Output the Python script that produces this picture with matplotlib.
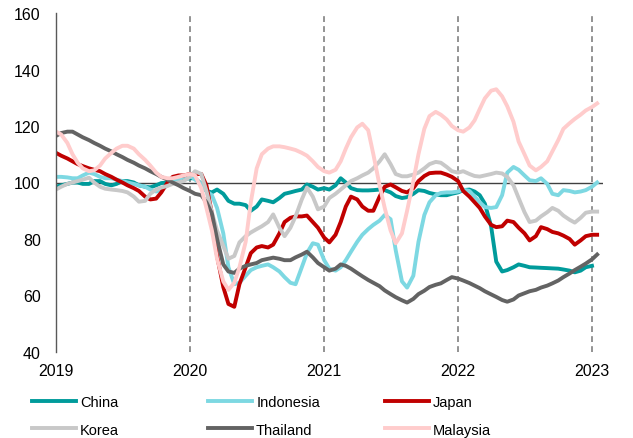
import numpy as np
import pandas as pd
import matplotlib
matplotlib.use('Agg')
import matplotlib.pyplot as plt

plt.rcParams['font.family'] = ['Liberation Sans', 'DejaVu Sans']

# semi-monthly index values, Jan 2019 - mid Jan 2023
dates = pd.date_range('2019-01-01', periods=98, freq='SMS')

china = [98.5, 99, 99.5, 100, 100, 99.5, 99.5, 100.5, 100.5, 99.5, 99, 99.5,
         100.5, 100.5, 100, 99, 98.5, 98.3, 99, 99.8, 100, 100.2, 100.8, 101.2,
         101.5, 101.5, 99.5, 97, 96.5, 97.5, 96, 93.5, 92.5, 92.5, 92, 90,
         91.5, 94, 93.5, 93, 94.5, 96, 96.5, 97, 97.5, 99.3, 98.5, 97.5,
         98, 97.5, 99, 101.5, 100, 98, 97.3, 97.2, 97.2, 97.3, 97.5, 97.3,
         96.5, 95.2, 94.5, 94.8, 96, 97.3, 97, 96.3, 95.8, 95.5, 95.5, 96,
         96.5, 97.3, 97.5, 96.8, 95.5, 92.5, 84.5, 72, 68.5, 69, 70, 71,
         70.5, 70, 69.9, 69.8, 69.7, 69.6, 69.5, 69.2, 68.8, 68.2, 68.8, 70,
         70.5, np.nan]
indonesia = [102, 102, 101.8, 101.5, 101.5, 102.5, 103.5, 103, 102, 101.5, 101.5, 101,
             100.5, 100, 99.5, 99, 98.5, 97.5, 96.8, 97.5, 99, 100.5, 101, 102,
             102.5, 101, 99.5, 97, 95.5, 91, 82, 70, 64, 64.5, 67, 69,
             70, 70.5, 71, 70, 68.5, 66.5, 64.5, 64, 70, 75, 78.5, 78,
             72.5, 69.5, 68.8, 70, 72.5, 75.5, 79, 81.5, 83.5, 85, 86.5, 88.5,
             87, 76, 65, 62.8, 67, 79, 88.5, 93, 95.5, 96.3, 96.5, 96.5,
             96.8, 97.5, 97, 95, 93, 91.3, 91, 91.3, 95.5, 103.5, 105.5, 104.5,
             102.5, 100.8, 100.5, 101.5, 99.5, 96, 95.5, 97.3, 97, 96.5, 96.8, 97.3,
             98.5, 100]
japan = [110.5, 109.5, 108.5, 107.5, 106.5, 105.8, 105, 104.5, 104, 103, 102, 101,
         100, 99, 98, 97, 95, 94, 94.3, 96.5, 100, 102, 102.5, 102.5,
         103, 103, 103, 99, 89, 74, 63, 57, 56, 64, 70, 75,
         77, 77.5, 77, 78, 82, 86, 87.5, 88, 88, 88.3, 86, 84,
         80.5, 78.8, 81.5, 86, 91.5, 95, 94, 91.5, 90, 90, 95, 98.5,
         99.3, 98.3, 97, 96.5, 98, 100.5, 102.3, 103.3, 103.5, 103.5, 102.8, 102,
         100.5, 97, 95, 93, 91, 88, 85, 84.2, 84.5, 86.5, 86, 84,
         82, 79.5, 81, 84.2, 83.5, 82.5, 82, 81.2, 80, 78, 79.5, 81,
         81.5, 81.5]
korea = [97.5, 98.5, 99.5, 100, 100.5, 101, 101.7, 100, 98.5, 97.8, 97.5, 97.3,
         97, 96.5, 95, 93.2, 93.5, 96, 97.5, 98.2, 98.8, 99.5, 100, 100.5,
         102, 104, 103, 97, 89.4, 83, 77.5, 73, 74, 78.8, 81, 82.3,
         83.5, 84.5, 86, 88.7, 84, 81, 84, 88, 94, 98.2, 95, 90.5,
         91.5, 94.5, 96, 97.5, 99, 100.5, 101.5, 102.5, 103.5, 105, 107.5, 110,
         106.5, 103, 102.2, 102.2, 102.8, 103.5, 105, 106.5, 107.3, 107, 105.5, 104,
         103.5, 104, 103, 102.3, 102.1, 102.5, 103, 103.5, 103.2, 102, 99, 94.5,
         89.5, 86, 86.5, 88, 89.5, 91, 90, 88.3, 86.8, 85.8, 87.5, 89.3,
         89.7, 89.7]
thailand = [116.5, 117.5, 118, 118, 117, 116, 115, 114, 113, 112, 111, 110,
            109, 108, 107, 106, 105, 104, 103, 102, 101, 100, 99, 98,
            97, 96, 95.5, 93, 89, 80, 71, 68.5, 68, 69.5, 70.5, 71,
            71.5, 72.5, 73, 73.4, 73, 72.5, 72.5, 73.5, 74.5, 75.5, 73.5, 71.5,
            70, 68.8, 69.5, 71, 70.5, 69.5, 68, 66.8, 65.5, 64.5, 63.3, 61.8,
            60.5, 59.4, 58.3, 57.5, 58.8, 60.5, 61.7, 63, 63.8, 64.3, 65.5, 66.5,
            66, 65.3, 64.4, 63.5, 62.6, 61.5, 60.4, 59.5, 58.4, 57.8, 58.6, 60,
            60.8, 61.5, 62, 62.8, 63.5, 64.3, 65.3, 66.5, 67.8, 69, 70.2, 71.3,
            72.8, 74.5]
malaysia = [118, 117, 114, 110, 107, 105, 104, 104.3, 106, 108.5, 110.5, 112,
            113, 113, 112, 110, 108, 106, 103.5, 102, 101.5, 101.5, 102, 102.5,
            103, 102.5, 98, 91, 83, 73, 65, 62, 64.5, 70, 79, 93,
            105, 110, 112, 112.8, 112.8, 112.5, 112, 111.5, 110.5, 109.5, 107.5, 105.5,
            104, 103.5, 104.5, 107.5, 112, 116, 119.5, 120.8, 118.5, 110, 99, 91,
            83, 78.5, 82, 90, 100.5, 110, 119, 123.5, 125, 124, 122.3, 120,
            118.5, 118, 119.5, 122, 126, 129.8, 132.5, 133, 130.5, 127, 121.5, 114.5,
            110, 106, 104.3, 105.5, 107.5, 111, 115, 119, 121, 122.5, 124, 125.5,
            126.7, 128]

names = ['China', 'Indonesia', 'Japan', 'Korea', 'Thailand', 'Malaysia']
series = [china, indonesia, japan, korea, thailand, malaysia]
colors = ['#009b9b', '#7dd8e2', '#c00000', '#c8c8c8', '#636363', '#ffcccc']
years = [2019, 2020, 2021, 2022, 2023]

fig = plt.figure(figsize=(6.33, 4.39), dpi=100)
ax = fig.add_axes([56/633, 1-353/439, (603-56)/633, (353-14)/439])

ax.axhline(100, color='#404040', lw=1.0, zorder=1)
for y in years[1:]:
    ax.axvline(pd.Timestamp(f'{y}-01-01'), color='#808080', lw=1.2,
               ls=(0, (3.5, 2.5)), zorder=1)

lines = {}
for name, vals, col in zip(names, series, colors):
    lines[name], = ax.plot(dates, vals, color=col, lw=2.8,
                           solid_joinstyle='round', label=name)

ax.set_ylim(40, 160)
ax.set_yticks(range(40, 161, 20))
ax.set_xlim(pd.Timestamp('2019-01-01'), pd.Timestamp('2023-01-31'))
ax.set_xticks([pd.Timestamp(f'{y}-01-01') for y in years])
ax.set_xticklabels([str(y) for y in years])
ax.tick_params(axis='both', length=0, labelsize=11.5, colors='#000000')
ax.tick_params(axis='y', pad=11)
ax.tick_params(axis='x', pad=8)
for s in ['top', 'right', 'bottom']:
    ax.spines[s].set_visible(False)
ax.spines['left'].set_color('#595959')
ax.spines['left'].set_linewidth(1.0)

# legend: three columns placed by hand
cols = [(['China', 'Korea'], 32), (['Indonesia', 'Thailand'], 208),
        (['Japan', 'Malaysia'], 385)]
for labels, xp in cols:
    fig.legend([lines[n] for n in labels], labels, loc='center left',
               bbox_to_anchor=(xp/633, 1-417/439), frameon=False,
               fontsize=10.5, handlelength=3.0, handletextpad=0.3,
               borderpad=0, borderaxespad=0, labelspacing=0.9)

fig.savefig('out.png', dpi=100)
